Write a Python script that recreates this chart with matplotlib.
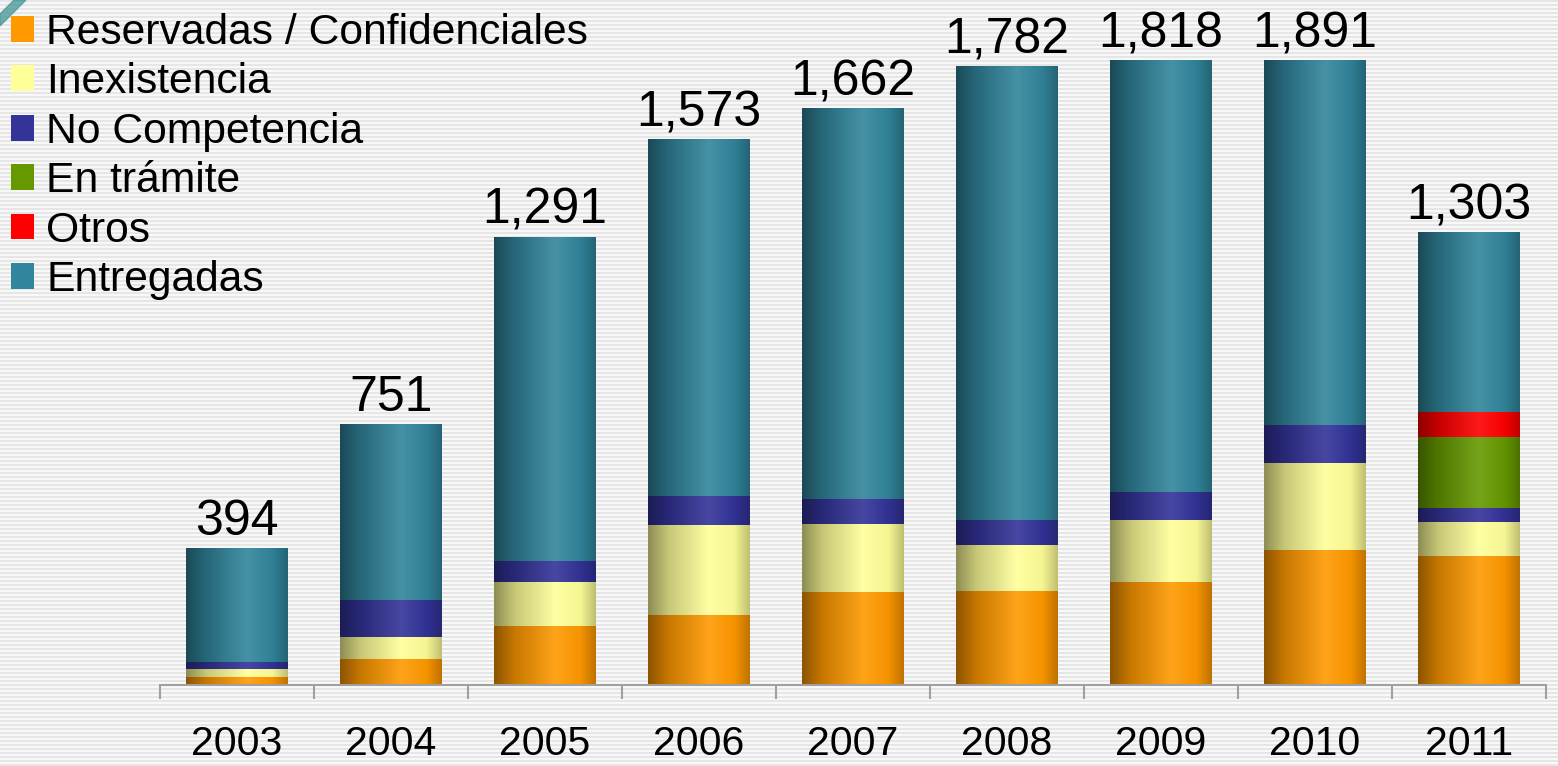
import numpy as np
import matplotlib
matplotlib.use("Agg")
import matplotlib.pyplot as plt
import matplotlib.colors as mcolors
from matplotlib.patches import Polygon

years = ["2003", "2004", "2005", "2006", "2007", "2008", "2009", "2010", "2011"]
reservadas = [23, 75, 170, 202, 268, 271, 297, 389, 372]
inexistencia = [23, 63, 127, 259, 196, 133, 179, 251, 98]
no_competencia = [20, 107, 61, 84, 72, 72, 81, 110, 40]
en_tramite = [0, 0, 0, 0, 0, 0, 0, 0, 205]
otros = [0, 0, 0, 0, 0, 0, 0, 0, 72]
entregadas = [328, 506, 933, 1028, 1126, 1306, 1261, 1141, 516]
totales = [394, 751, 1291, 1573, 1662, 1782, 1818, 1891, 1303]

series = [
    ("Reservadas / Confidenciales", reservadas, "#FF9900"),
    ("Inexistencia", inexistencia, "#FFFF99"),
    ("No Competencia", no_competencia, "#333399"),
    ("En trámite", en_tramite, "#669900"),
    ("Otros", otros, "#FF0000"),
    ("Entregadas", entregadas, "#31859C"),
]

Y_MAX = 1800


def shade(color, f):
    r, g, b = mcolors.to_rgb(color)
    if f <= 1:
        return (r * f, g * f, b * f)
    t = f - 1
    return (r + (1 - r) * t, g + (1 - g) * t, b + (1 - b) * t)


def cylinder_cmap(color):
    # sombreado tipo cilindro: oscuro a la izquierda, brillo hacia el centro-derecha
    pts = [(0.0, shade(color, 0.55)), (0.2, shade(color, 0.78)),
           (0.6, shade(color, 1.1)), (0.85, shade(color, 0.96)),
           (1.0, shade(color, 0.75))]
    return mcolors.LinearSegmentedColormap.from_list("cyl", pts)


plt.rcParams['font.family'] = ['Liberation Sans', 'DejaVu Sans']

fig = plt.figure(figsize=(15.58, 7.66), dpi=100)
fig.patch.set_facecolor("white")

# fondo rayado
bg = fig.add_axes([0, 0, 1, 1], zorder=-10)
stripes = np.tile(np.array([0.90, 0.90, 0.97, 0.97]), 200)[:766].reshape(-1, 1)
bg.imshow(stripes, cmap="gray", vmin=0, vmax=1, aspect="auto", extent=[0, 1, 0, 1])
bg.add_patch(Polygon([(0, 1 - 26 / 766), (0, 1 - 14 / 766), (14 / 1558, 1), (26 / 1558, 1)],
                     closed=True, color="#4E9A9A", alpha=0.8))
bg.set_xlim(0, 1)
bg.set_ylim(0, 1)
bg.axis("off")

ax = fig.add_axes([160 / 1558, 81 / 766, 1386 / 1558, 625 / 766])
ax.set_facecolor("none")

x = np.arange(len(years))
gradient = np.linspace(0, 1, 256).reshape(1, -1)
bottom = np.zeros(len(years))
handles = []
for label, values, color in series:
    vals = np.array(values, dtype=float)
    bars = ax.bar(x, vals, width=0.656, bottom=bottom, color=color, label=label,
                  linewidth=0, zorder=1)
    handles.append(bars)
    cmap = cylinder_cmap(color)
    for rect in bars:
        h = rect.get_height()
        if h <= 0:
            continue
        x0, y0, w = rect.get_x(), rect.get_y(), rect.get_width()
        top = min(y0 + h, Y_MAX)
        if top <= y0:
            continue
        ax.imshow(gradient, cmap=cmap, extent=[x0, x0 + w, y0, top],
                  aspect="auto", origin="lower", zorder=2, interpolation="bilinear")
    bottom += vals

for xi, tot in zip(x, totales):
    ax.annotate(f"{tot:,}", (xi, min(tot, Y_MAX)), xytext=(0, 2), textcoords="offset points",
                ha="center", va="bottom", fontsize=36, annotation_clip=False)

ax.set_xlim(-0.5, len(years) - 0.5)
ax.set_ylim(0, Y_MAX)

for side in ["left", "right", "top"]:
    ax.spines[side].set_visible(False)
ax.spines["bottom"].set_color("#A0A0A0")
ax.spines["bottom"].set_linewidth(1.5)
ax.set_yticks([])
ax.set_xticks(x)
ax.set_xticklabels(years, fontsize=29.5)
ax.tick_params(axis="x", which="major", length=0, pad=29)
ax.set_xticks(np.arange(-0.5, len(years), 1.0), minor=True)
ax.tick_params(axis="x", which="minor", length=10, width=1.5, color="#A0A0A0", direction="out")

fig.legend(handles=handles, labels=[s[0] for s in series], loc="upper left",
           bbox_to_anchor=(11 / 1558, 1 - 13 / 766), frameon=False, fontsize=30.7,
           handlelength=0.55, handleheight=0.55, handletextpad=0.28,
           labelspacing=0.22, borderaxespad=0, borderpad=0)

plt.savefig("out.png", dpi=100)
